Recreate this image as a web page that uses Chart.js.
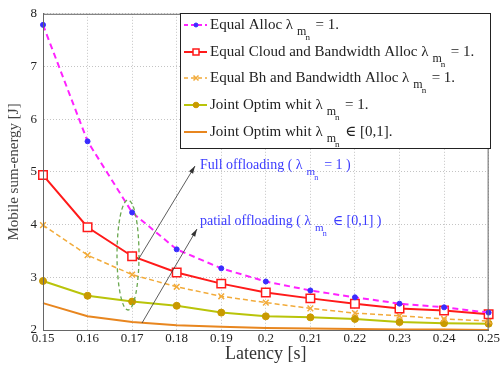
<!DOCTYPE html>
<html>
<head>
<meta charset="utf-8">
<script src="https://cdn.jsdelivr.net/npm/chart.js@4"></script>
<style>
  html, body { margin: 0; padding: 0; background: #fff; }
  #wrap { width: 501px; height: 367px; }
</style>
</head>
<body>
<div id="wrap"><canvas id="chart"></canvas></div>
<script>
// latency values (s)
const latency = ['0.15', '0.16', '0.17', '0.18', '0.19', '0.2', '0.21', '0.22', '0.23', '0.24', '0.25'];

// mobile sum-energy (J)
const equalAlloc     = [7.79, 5.58, 4.23, 3.53, 3.17, 2.92, 2.75, 2.62, 2.50, 2.43, 2.33];
const equalCloudBw   = [4.94, 3.95, 3.40, 3.09, 2.88, 2.71, 2.60, 2.50, 2.41, 2.37, 2.30];
const equalBhBw      = [3.99, 3.42, 3.05, 2.82, 2.64, 2.52, 2.41, 2.32, 2.27, 2.21, 2.17];
const jointFull      = [2.93, 2.65, 2.54, 2.46, 2.33, 2.26, 2.24, 2.21, 2.15, 2.13, 2.12];
const jointPartial   = [2.51, 2.26, 2.15, 2.09, 2.06, 2.04, 2.03, 2.02, 2.01, 2.01, 2.00];

const yTicks = [2, 3, 4, 5, 6, 7, 8];

// legend text: before subscript, after subscript
const legendText = [
  ['Equal Alloc \u03bb', '= 1.'],
  ['Equal Cloud and Bandwidth Alloc \u03bb', '= 1.'],
  ['Equal Bh and Bandwidth Alloc \u03bb', '= 1.'],
  ['Joint Optim whit \u03bb', '= 1.'],
  ['Joint Optim whit \u03bb', '\u2208 [0,1].']
];

const SERIF = '"Liberation Serif", "DejaVu Serif", serif';

// text with the little "m_n" subscript
function drawSubText(ctx, pre, post, x, y, size, color) {
  ctx.fillStyle = color;
  ctx.textAlign = 'left';
  ctx.textBaseline = 'alphabetic';
  ctx.font = size + 'px ' + SERIF;
  ctx.fillText(pre, x, y);
  x += ctx.measureText(pre).width + 4;
  ctx.font = Math.round(size * 0.78) + 'px ' + SERIF;
  ctx.fillText('m', x, y + 6);
  const mw = ctx.measureText('m').width;
  ctx.font = Math.round(size * 0.6) + 'px ' + SERIF;
  ctx.fillText('n', x + mw - 1, y + 11);
  x += mw + 9;
  ctx.font = size + 'px ' + SERIF;
  ctx.fillText(post, x, y);
}

function arrow(ctx, x1, y1, x2, y2) {
  ctx.save();
  ctx.strokeStyle = '#333';
  ctx.fillStyle = '#333';
  ctx.lineWidth = 0.8;
  ctx.beginPath();
  ctx.moveTo(x1, y1);
  ctx.lineTo(x2, y2);
  ctx.stroke();
  const a = Math.atan2(y2 - y1, x2 - x1);
  ctx.beginPath();
  ctx.moveTo(x2, y2);
  ctx.lineTo(x2 - 8 * Math.cos(a - 0.3), y2 - 8 * Math.sin(a - 0.3));
  ctx.lineTo(x2 - 8 * Math.cos(a + 0.3), y2 - 8 * Math.sin(a + 0.3));
  ctx.closePath();
  ctx.fill();
  ctx.restore();
}

function legendMarker(ctx, ds, x, y) {
  ctx.fillStyle = ds.pointBackgroundColor;
  ctx.strokeStyle = ds.pointBorderColor;
  ctx.lineWidth = ds.pointBorderWidth;
  ctx.beginPath();
  if (ds.pointStyle === 'circle') {
    ctx.arc(x, y, ds.pointRadius * 0.8, 0, Math.PI * 2);
    ctx.fill();
    ctx.stroke();
  } else if (ds.pointStyle === 'rect') {
    ctx.rect(x - 3, y - 3, 6, 6);
    ctx.fill();
    ctx.stroke();
  } else {
    ctx.moveTo(x - 2.5, y - 2.5); ctx.lineTo(x + 2.5, y + 2.5);
    ctx.moveTo(x + 2.5, y - 2.5); ctx.lineTo(x - 2.5, y + 2.5);
    ctx.stroke();
  }
}

const extras = {
  id: 'extras',
  afterDraw(chart) {
    const ctx = chart.ctx;
    const area = chart.chartArea;
    ctx.save();

    // axes box
    ctx.strokeStyle = '#666';
    ctx.lineWidth = 1;
    ctx.strokeRect(area.left + 0.5, area.top + 0.5, area.right - area.left - 1, area.bottom - area.top);

    // green dashed ellipse round 0.17
    ctx.strokeStyle = '#6aa84f';
    ctx.lineWidth = 1.3;
    ctx.setLineDash([4, 3]);
    ctx.beginPath();
    ctx.ellipse(128, 255, 11, 55, 0, 0, Math.PI * 2);
    ctx.stroke();
    ctx.setLineDash([]);

    // arrows + notes
    arrow(ctx, 138, 260, 195, 166);
    arrow(ctx, 142, 323, 197, 229);
    drawSubText(ctx, 'Full offloading ( \u03bb', '= 1 )', 200, 169, 14, '#3b3bff');
    drawSubText(ctx, 'patial offloading ( \u03bb', '\u2208 [0,1] )', 200, 225, 14, '#3b3bff');

    // legend box
    const bx = 180, by = 13, bw = 310, bh = 135;
    ctx.fillStyle = '#fff';
    ctx.fillRect(bx, by, bw, bh);
    ctx.strokeStyle = '#222';
    ctx.lineWidth = 1;
    ctx.strokeRect(bx + 0.5, by + 0.5, bw, bh);

    const rows = [25, 52, 78, 105, 132];
    chart.data.datasets.forEach((ds, i) => {
      const y = rows[i];
      ctx.strokeStyle = ds.borderColor;
      ctx.lineWidth = ds.borderWidth;
      ctx.setLineDash(ds.borderDash ? [4, 3] : []);
      ctx.beginPath();
      ctx.moveTo(184, y);
      ctx.lineTo(207, y);
      ctx.stroke();
      ctx.setLineDash([]);
      if (ds.pointRadius > 0) legendMarker(ctx, ds, 196, y);
      drawSubText(ctx, legendText[i][0], legendText[i][1], 210, y + 4, 15, '#222');
    });
    ctx.restore();
  }
};

new Chart(document.getElementById('chart'), {
  type: 'line',
  data: {
    labels: latency,
    datasets: [
      {
        label: 'Equal Alloc',
        data: equalAlloc,
        borderColor: '#ff22ff',
        borderWidth: 2,
        borderDash: [6, 4],
        pointStyle: 'circle',
        pointRadius: 2.5,
        pointBackgroundColor: '#3a2cff',
        pointBorderColor: '#3a2cff',
        pointBorderWidth: 1
      },
      {
        label: 'Equal Cloud and Bandwidth Alloc',
        data: equalCloudBw,
        borderColor: '#ff1a1a',
        borderWidth: 2,
        pointStyle: 'rect',
        pointRadius: 6,
        pointBackgroundColor: '#fff',
        pointBorderColor: '#ff1a1a',
        pointBorderWidth: 1.5
      },
      {
        label: 'Equal Bh and Bandwidth Alloc',
        data: equalBhBw,
        borderColor: '#f2ab3a',
        borderWidth: 1.5,
        borderDash: [5, 3],
        pointStyle: 'crossRot',
        pointRadius: 4,
        pointBackgroundColor: '#f2ab3a',
        pointBorderColor: '#f2ab3a',
        pointBorderWidth: 1.5
      },
      {
        label: 'Joint Optim whit full',
        data: jointFull,
        borderColor: '#b9c40a',
        borderWidth: 2,
        pointStyle: 'circle',
        pointRadius: 3.5,
        pointBackgroundColor: '#c99a00',
        pointBorderColor: '#c99a00',
        pointBorderWidth: 1
      },
      {
        label: 'Joint Optim whit partial',
        data: jointPartial,
        borderColor: '#e8861f',
        borderWidth: 2,
        pointRadius: 0
      }
    ]
  },
  options: {
    responsive: true,
    maintainAspectRatio: false,
    animation: false,
    layout: { padding: { left: 0, right: 10, top: 10, bottom: 0 } },
    plugins: {
      legend: { display: false },
      tooltip: { enabled: false }
    },
    scales: {
      x: {
        type: 'category',
        offset: false,
        afterFit(scale) { scale.height = 37; },
        grid: { color: '#c4c4c4', drawTicks: false },
        border: { display: true, color: '#666', dash: [1, 2] },
        ticks: { color: '#222', padding: 1, maxRotation: 0, autoSkip: false, font: { family: SERIF, size: 13 } },
        title: { display: true, text: 'Latency [s]', color: '#333', padding: { top: 0, bottom: 2 }, font: { family: SERIF, size: 18 } }
      },
      y: {
        min: 2,
        max: 8,
        afterFit(scale) { scale.width = 43; },
        afterBuildTicks(scale) { scale.ticks = yTicks.map(v => ({ value: v })); },
        grid: { color: '#c4c4c4', drawTicks: false },
        border: { display: true, color: '#666', dash: [1, 2] },
        ticks: { color: '#222', padding: 6, font: { family: SERIF, size: 13 } },
        title: { display: true, text: 'Mobile sum-energy [J]', color: '#444', padding: 5, font: { family: SERIF, size: 15 } }
      }
    }
  },
  plugins: [extras]
});
</script>
</body>
</html>
